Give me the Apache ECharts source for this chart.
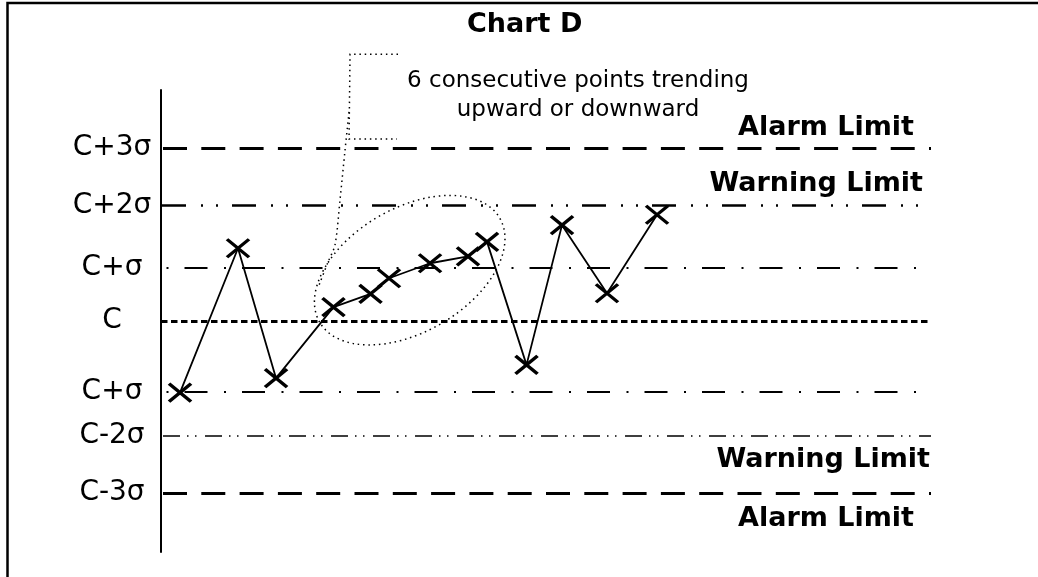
<!DOCTYPE html>
<html><head><meta charset="utf-8">
<script src="https://cdn.jsdelivr.net/npm/echarts@6/dist/echarts.min.js"></script>
<style>html,body{margin:0;padding:0;background:#fff}#c{width:1038px;height:577px}</style>
</head><body><div id="c"></div>
<script>
// sample positions (x in arbitrary time units 0-100, y in sigma units, C = 0)
const sampleX = [2.47, 10.0, 14.94, 22.4, 27.21, 29.61, 34.94, 39.87, 42.34, 47.47, 52.08, 57.92, 64.42];
const sampleY = [-1.24, 1.26, -0.99, 0.24, 0.47, 0.74, 1.00, 1.12, 1.37, -0.76, 1.66, 0.48, 1.84];
// control levels and their tick labels
const levelValues = [3, 2, 0.92, 0, -1.23, -1.99, -2.98];
const levelLabels = ['C+3σ', 'C+2σ', 'C+σ', 'C', 'C+σ', 'C-2σ', 'C-3σ'];
const limitNames = ['Alarm Limit', 'Warning Limit', '', '', '', 'Warning Limit', 'Alarm Limit'];
// annotation anchors (data units)
const ellipseCenter = [32.3, 0.88];
const calloutBracket = [[30.78, 4.62], [24.55, 4.62], [24.42, 3.15], [30.65, 3.15]];
const calloutLeader = [[24.42, 3.62], [23.9, 2.96], [23.25, 2.10], [22.6, 1.32], [21.69, 1.02], [20.52, 0.62]];

const FONT = 'DejaVu Sans';
const lineStyles = [
  { type: [24, 14.3], width: 3, dashOffset: 36.3 },
  { type: [24, 15, 2, 13, 2, 14], width: 2.5, dashOffset: 69 },
  { type: [23, 16.5, 2, 16], width: 2, dashOffset: 34 },
  { type: [6.5, 3.5], width: 3, dashOffset: 0 },
  { type: [23, 16.5, 2, 16], width: 2, dashOffset: 34 },
  { type: [17, 7, 1.5, 6.5, 1.5, 8.5], width: 1.5, dashOffset: 40 },
  { type: [24, 14.3], width: 3, dashOffset: 36.3 }
];
const labelPlace = [
  { position: 'insideEndTop', distance: [17, 6] },
  { position: 'insideEndTop', distance: [8, 8] },
  null, null, null,
  { position: 'insideEndBottom', distance: [1, 11] },
  { position: 'insideEndBottom', distance: [17, 12] }
];

const markData = levelValues.map((v, i) => {
  const item = {
    yAxis: v,
    lineStyle: Object.assign({ color: '#000' }, lineStyles[i])
  };
  if (limitNames[i]) {
    item.label = Object.assign({
      show: true, formatter: limitNames[i], color: '#000',
      fontFamily: FONT, fontWeight: 'bold', fontSize: 27
    }, labelPlace[i]);
  } else {
    item.label = { show: false };
  }
  return item;
});

const chart = echarts.init(document.getElementById('c'));
chart.setOption({
  animation: false,
  backgroundColor: '#fff',
  title: {
    text: 'Chart D', left: 467, top: 11, padding: 0,
    textStyle: { fontFamily: FONT, fontWeight: 'bold', fontSize: 27, color: '#000' }
  },
  grid: { left: 161, right: 107, top: 90, bottom: 25 },
  xAxis: { type: 'value', min: 0, max: 100, show: false },
  yAxis: {
    type: 'value', min: -4, max: 4,
    splitLine: { show: false },
    axisTick: { show: false },
    axisLine: { show: true, lineStyle: { color: '#000', width: 2 } },
    axisLabel: {
      customValues: levelValues,
      formatter: function (v) {
        const idx = levelValues.findIndex(x => Math.abs(x - v) < 1e-6);
        return idx >= 0 ? levelLabels[idx] : '';
      },
      fontFamily: FONT, fontSize: 28, color: '#000', margin: 49, align: 'center'
    }
  },
  graphic: [
    { type: 'rect', shape: { x: 7.5, y: 3, width: 1200, height: 800 },
      style: { fill: 'none', stroke: '#000', lineWidth: 2.5 }, silent: true },
    { type: 'text', x: 578, y: 67,
      style: { text: '6 consecutive points trending\nupward or downward', fill: '#000',
        font: '23px "DejaVu Sans"', textAlign: 'center', textVerticalAlign: 'top', lineHeight: 29 } }
  ],
  series: [
    {
      type: 'custom',
      silent: true,
      data: [ellipseCenter],
      renderItem: function (params, api) {
        const c = api.coord(ellipseCenter);
        const dotted = { fill: 'none', stroke: '#000', lineWidth: 1.5, lineDash: [1.5, 3.8] };
        return {
          type: 'group',
          children: [
            { type: 'ellipse', shape: { cx: c[0], cy: c[1], rx: 104, ry: 62 },
              rotation: Math.PI / 6, originX: c[0], originY: c[1], style: dotted },
            { type: 'polyline', shape: { points: calloutBracket.map(p => api.coord(p)) }, style: dotted },
            { type: 'polyline', shape: { points: calloutLeader.map(p => api.coord(p)), smooth: 0.3 }, style: dotted }
          ]
        };
      }
    },
    {
      type: 'line',
      data: sampleX.map((x, i) => [x, sampleY[i]]),
      lineStyle: { color: '#000', width: 1.8 },
      symbol: 'path://M0,0L22,18M22,0L0,18',
      symbolSize: [22, 18],
      showAllSymbol: true,
      itemStyle: { color: 'rgba(0,0,0,0)', borderColor: '#000', borderWidth: 3.3 },
      markLine: {
        silent: true, symbol: ['none', 'none'], animation: false,
        data: markData
      },
      z: 3
    }
  ]
});
</script></body></html>
